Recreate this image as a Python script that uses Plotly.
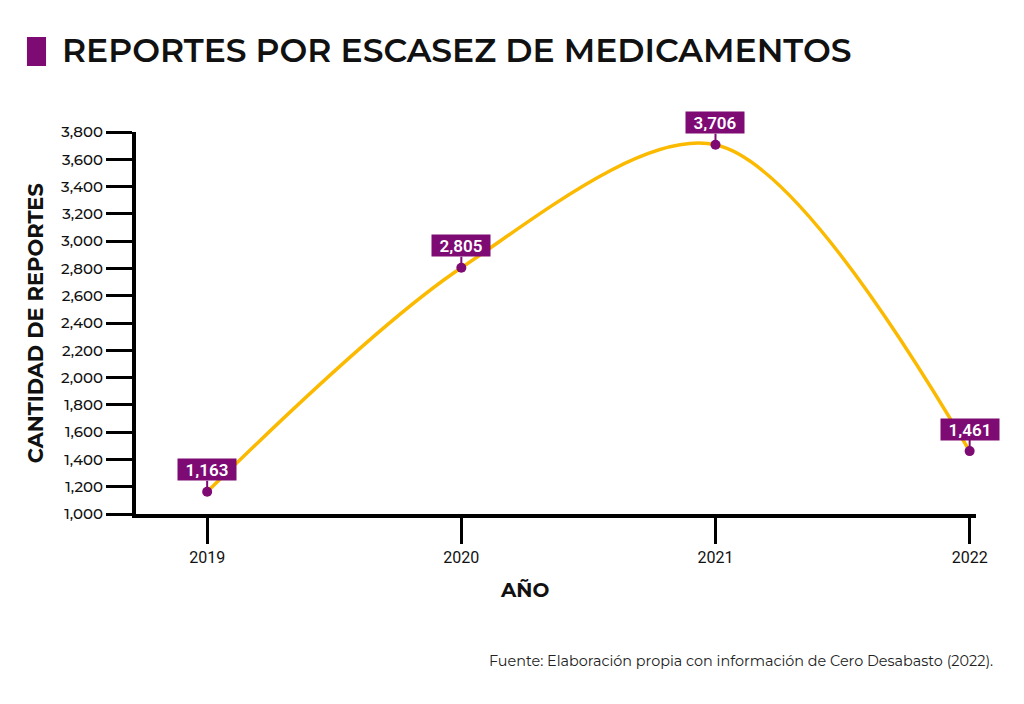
import plotly.graph_objects as go

years = [2019, 2020, 2021, 2022]
reportes = [1163, 2805, 3706, 1461]
etiquetas = ["1,163", "2,805", "3,706", "1,461"]
y_ticks = list(range(1000, 3801, 200))
y_tick_text = [f"{v:,}" for v in y_ticks]

PURPLE = "#7E0A73"
GOLD = "#FBBA00"
COND = "Roboto, sans-serif"
MAIN = "Montserrat, Open Sans, Inter, sans-serif"

fig = go.Figure()
fig.add_trace(go.Scatter(
    x=years, y=reportes, mode="lines+markers",
    line=dict(color=GOLD, width=3.5, shape="spline", smoothing=0.9),
    marker=dict(color=PURPLE, size=10, opacity=1),
    marker_line_width=0,
    hoverinfo="skip", showlegend=False,
))

annotations = []
for x, y, t in zip(years, reportes, etiquetas):
    annotations.append(dict(
        x=x, y=y, xref="x", yref="y", text=t,
        showarrow=True, arrowhead=0, arrowwidth=2, arrowcolor=PURPLE,
        ax=0, ay=-22, bgcolor=PURPLE, borderpad=2, width=54, height=17,
        font=dict(family=COND, size=17, color="white", weight=600),
    ))

annotations += [
    dict(text="CANTIDAD DE REPORTES", textangle=-90, x=-0.12, y=0.5,
         xref="paper", yref="paper", showarrow=False, xanchor="center", yanchor="middle",
         font=dict(family=MAIN, size=21, color="#111", weight=700)),
    dict(text="AÑO", x=0.463, y=-0.199, xref="paper", yref="paper",
         showarrow=False, xanchor="center", yanchor="middle",
         font=dict(family=MAIN, size=20, color="#111", weight=700)),
    dict(text="Fuente: Elaboración propia con información de Cero Desabasto (2022).",
         x=1.0226, y=-0.385, xref="paper", yref="paper", showarrow=False,
         xanchor="right", yanchor="middle",
         font=dict(family=MAIN, size=14.4, color="#222")),
]

fig.update_layout(
    width=1024, height=704,
    margin=dict(l=128, r=56, t=124, b=198),
    paper_bgcolor="white", plot_bgcolor="white",
    title=dict(text="REPORTES POR ESCASEZ DE MEDICAMENTOS", x=54/1024, xanchor="left",
               y=1 - 42/704, yanchor="middle", xref="container", yref="container",
               font=dict(family=MAIN, size=33, color="#111", weight=600)),
    annotations=annotations,
    shapes=[dict(type="rect", xref="paper", yref="paper",
                 x0=-0.1298, x1=-0.1071, y0=1.1728, y1=1.2487,
                 fillcolor=PURPLE, line_width=0)],
    xaxis=dict(range=[2018.72, 2022.025], tickvals=years, ticktext=[str(v) for v in years],
               showgrid=False, zeroline=False, showline=True, linecolor="black", linewidth=4,
               ticks="outside", ticklen=26, tickwidth=3, tickcolor="black",
               tickfont=dict(family=COND, size=16, color="#111", weight=400), fixedrange=True),
    yaxis=dict(range=[1000, 3800], tickvals=y_ticks, ticktext=y_tick_text,
               showgrid=False, zeroline=False, showline=True, linecolor="black", linewidth=4,
               ticks="outside", ticklen=26, tickwidth=3, tickcolor="black",
               tickfont=dict(family=MAIN, size=15, color="#111", weight=500), fixedrange=True),
)

fig.write_html("out.html")
